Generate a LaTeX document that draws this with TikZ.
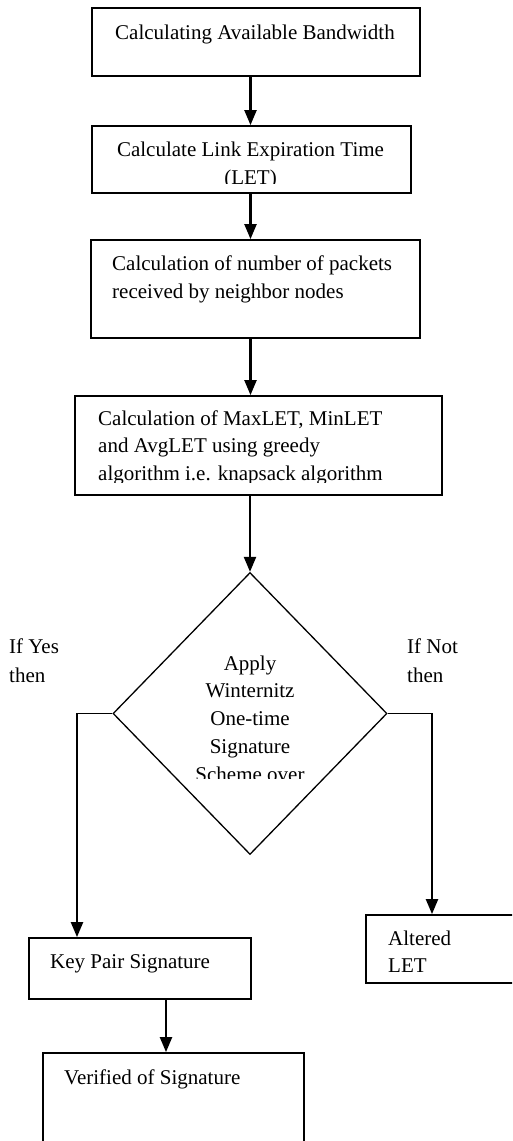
\documentclass[tikz,border=0pt]{standalone}
\usepackage{fontspec}
\setmainfont{Liberation Serif}
\usetikzlibrary{shapes.geometric,arrows.meta}
\tikzset{
  box/.style={draw, line width=1.8pt, rectangle, inner sep=0pt},
  dia/.style={draw, line width=1.3pt, diamond, inner sep=0pt},
  arr/.style={line width=2.2pt, -{Triangle[width=12pt,length=15pt]}},
  thinconn/.style={line width=1.4pt},
  txt/.style={inner sep=0pt, font=\fontsize{21}{28}\selectfont},
  tl/.style={txt, anchor=base west},
  tc/.style={txt, anchor=base},
}
\begin{document}
\begin{tikzpicture}[x=1pt,y=-1pt]
\clip (0,0) rectangle (512,1141);
\fill[white] (0,0) rectangle (512,1141);
% boxes
\node[box, minimum width=328pt, minimum height=68pt] (b1) at (256,42) {};
\node[box, minimum width=319pt, minimum height=67pt] (b2) at (251.5,159.5) {};
\node[box, minimum width=329pt, minimum height=98pt] (b3) at (255.5,289) {};
\node[box, minimum width=367pt, minimum height=99pt] (b4) at (258.5,445.5) {};
\node[dia, minimum width=274pt, minimum height=282pt] (d) at (250,713.5) {};
\node[box, minimum width=222pt, minimum height=61pt] (kp) at (140,968.5) {};
\node[box, minimum width=154pt, minimum height=68pt] (alt) at (443,949) {};
\node[box, minimum width=261pt, minimum height=110pt] (vf) at (173.5,1108) {};
% texts
\node[tc] (t1) at (255,39) {Calculating Available Bandwidth};
\begin{scope}
\clip (92,126) rectangle (411,183);
\node[tc] (t2a) at (250.5,156) {Calculate Link Expiration Time};
\node[tc] (t2b) at (250.5,184) {(LET)};
\end{scope}
\node[tl] (t3a) at (112,270) {Calculation of number of packets};
\node[tl] (t3b) at (112,298) {received by neighbor nodes};
\begin{scope}
\clip (75,396) rectangle (442,482);
\node[tl] (t4a) at (98,425) {Calculation of MaxLET, MinLET};
\node[tl] (t4b) at (98,452) {and AvgLET using greedy};
\node[tl] (t4c) at (98,480) {algorithm i.e. knapsack algorithm};
\end{scope}
\begin{scope}
\clip (150,640) rectangle (350,778);
\node[tc] (t5a) at (250,670) {Apply};
\node[tc] (t5b) at (250,697) {Winternitz};
\node[tc] (t5c) at (250,725) {One-time};
\node[tc] (t5d) at (250,753) {Signature};
\node[tc] (t5e) at (250,781) {Scheme over};
\end{scope}
\node[tl] (ly1) at (9,653) {If Yes};
\node[tl] (ly2) at (9,682) {then};
\node[tl] (ln1) at (407,653) {If Not};
\node[tl] (ln2) at (407,682) {then};
\node[tl] (tkp) at (50,968) {Key Pair Signature};
\node[tl] (talt1) at (388,945) {Altered};
\node[tl] (talt2) at (388,972) {LET};
\node[tl] (tvf) at (64,1084) {Verified of Signature};
% axes for connectors
\coordinate (ax) at (250.5,0);
\coordinate (lx) at (77,0);
\coordinate (rx) at (432,0);
\coordinate (vx) at (166,0);
% connectors
\draw[arr] (b1.south -| ax) -- (b2.north -| ax);
\draw[arr] (b2.south -| ax) -- (b3.north -| ax);
\draw[arr] (b3.south -| ax) -- (b4.north -| ax);
\draw[arr] (b4.south -| d.north) -- (d.north);
\draw[thinconn] (d.west) -- ([xshift=-1.1pt]lx |- d.west);
\draw[arr] ([yshift=-0.7pt]lx |- d.west) -- (lx |- kp.north);
\draw[thinconn] (d.east) -- ([xshift=1.1pt]rx |- d.east);
\draw[arr] ([yshift=-0.7pt]rx |- d.east) -- (rx |- alt.north);
\draw[arr] (kp.south -| vx) -- (vf.north -| vx);
\end{tikzpicture}
\end{document}
